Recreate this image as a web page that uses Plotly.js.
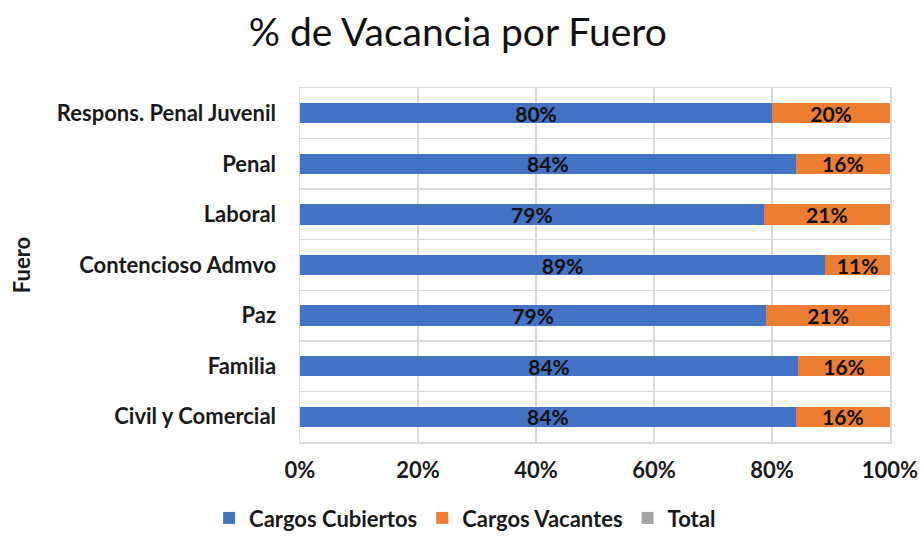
<!DOCTYPE html>
<html>
<head>
<meta charset="utf-8">
<script src="https://cdn.plot.ly/plotly-3.0.1.min.js"></script>
<style>html,body{margin:0;padding:0;background:#fff;}#chart{width:921px;height:537px;}</style>
</head>
<body>
<div id="chart"></div>
<script>
const categories = ["Civil y Comercial", "Familia", "Paz", "Contencioso Admvo", "Laboral", "Penal", "Respons. Penal Juvenil"];
const cubiertos = [0.84, 0.844, 0.79, 0.89, 0.786, 0.84, 0.80];
const vacantes = [0.16, 0.156, 0.21, 0.11, 0.214, 0.16, 0.20];
const total = [0, 0, 0, 0, 0, 0, 0];
const tickVals = [0, 0.2, 0.4, 0.6, 0.8, 1.0];
const tickText = ["0%", "20%", "40%", "60%", "80%", "100%"];

const FONT = "Lato, 'Open Sans', sans-serif";
const labelFont = {family: FONT, size: 21, color: "#111", weight: "bold"};
const tickFont = {family: FONT, size: 22, color: "#1a1a1a", weight: "bold"};

const traces = [
  {type: "bar", orientation: "h", name: "Cargos Cubiertos", y: categories, x: cubiertos,
   marker: {color: "#4472C4"}, width: 0.4, texttemplate: "<b>%{x:.0%}</b>",
   textposition: "inside", insidetextanchor: "middle", textfont: labelFont, constraintext: "none"},
  {type: "bar", orientation: "h", name: "Cargos Vacantes", y: categories, x: vacantes,
   marker: {color: "#ED7D31"}, width: 0.4, texttemplate: "<b>%{x:.0%}</b>",
   textposition: "inside", insidetextanchor: "middle", textfont: labelFont, constraintext: "none"},
  {type: "bar", orientation: "h", name: "Total", y: categories, x: total,
   marker: {color: "#A5A5A5"}, width: 0.4, hoverinfo: "skip"}
];

const layout = {
  width: 921, height: 537,
  paper_bgcolor: "#fff", plot_bgcolor: "#fff",
  barmode: "stack",
  margin: {l: 300, r: 31, t: 88, b: 95, autoexpand: false},
  title: {text: "% de Vacancia por Fuero", x: 0.497, xanchor: "center", y: 0.94, yanchor: "middle",
          font: {family: FONT, size: 39, color: "#111"}},
  xaxis: {range: [0, 1], tickvals: tickVals, ticktext: tickText, showgrid: true, gridcolor: "#d9d9d9",
          gridwidth: 1.5, zeroline: false, showline: true, linecolor: "#d9d9d9", linewidth: 1.5, mirror: true,
          ticks: "", ticklabelstandoff: 8, tickfont: tickFont, fixedrange: true},
  yaxis: {type: "category", categoryorder: "array", categoryarray: categories,
          showgrid: true, tickson: "boundaries", gridcolor: "#d9d9d9", gridwidth: 1.5,
          showline: true, linecolor: "#d9d9d9", linewidth: 1.5, mirror: true,
          ticks: "", ticklabelstandoff: 18, tickfont: tickFont,
          title: {text: "Fuero", standoff: 20, font: tickFont},
          fixedrange: true},
  legend: {orientation: "h", xref: "container", x: 0.505, xanchor: "center",
           yref: "paper", y: -0.215, yanchor: "middle",
           font: {family: FONT, size: 22, color: "#1a1a1a", weight: "bold"}, traceorder: "normal",
           itemwidth: 30},
  showlegend: true
};

Plotly.newPlot("chart", traces, layout, {displayModeBar: false, staticPlot: true});
</script>
</body>
</html>
